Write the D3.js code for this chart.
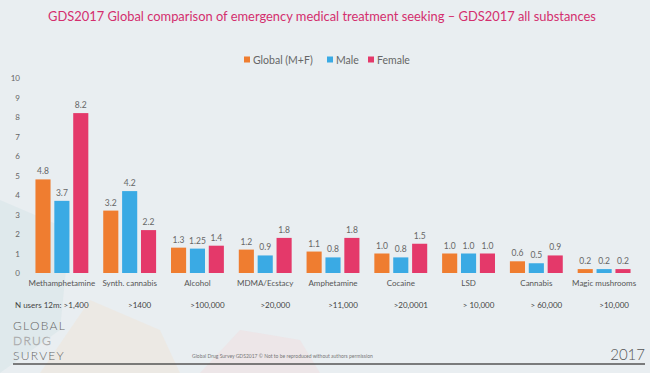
<!DOCTYPE html>
<html><head><meta charset="utf-8">
<script src="https://cdn.jsdelivr.net/npm/d3@7"></script>
<style>
html,body{margin:0;padding:0;background:#e9eef1;}
svg{display:block;font-family:Lato,"Open Sans",sans-serif;}
</style></head>
<body><svg id="c" width="650" height="373"></svg>
<script>
const categories = ["Methamphetamine","Synth. cannabis","Alcohol","MDMA/Ecstacy","Amphetamine","Cocaine","LSD","Cannabis","Magic mushrooms"];
const globalVals = [4.8,3.2,1.3,1.2,1.1,1.0,1.0,0.6,0.2];
const maleVals   = [3.7,4.2,1.25,0.9,0.8,0.8,1.0,0.5,0.2];
const femaleVals = [8.2,2.2,1.4,1.8,1.8,1.5,1.0,0.9,0.2];
const seriesNames = ["Global (M+F)","Male","Female"];
const nUsers = [">1,400",">1400",">100,000",">20,000",">11,000",">20,0001","> 10,000","> 60,000",">10,000"];
const yTicks = [0,1,2,3,4,5,6,7,8,9,10];

const colors = ["#ef7d30","#3aaae4","#e4396a"];
const series = [globalVals, maleVals, femaleVals];

const svg = d3.select("#c");
svg.append("rect").attr("width",650).attr("height",373).attr("fill","#e9eef1");

// faint decorative shapes bottom-left
svg.append("path").attr("d","M0,200 L70,230 L60,330 L0,373 Z").attr("fill","#d9e6ea").attr("opacity",0.6);
svg.append("path").attr("d","M40,373 L90,300 L160,330 L180,373 Z").attr("fill","#efe6dc").attr("opacity",0.6);
svg.append("path").attr("d","M200,373 L240,330 L300,340 L320,373 Z").attr("fill","#f1dde0").attr("opacity",0.5);

svg.append("text").attr("x",322).attr("y",21).attr("text-anchor","middle")
  .attr("font-size",12.9).attr("fill","#d42e6e").text("GDS2017 Global comparison of emergency medical treatment seeking \u2013 GDS2017 all substances");

// legend
const legX = [244,327,368];
seriesNames.forEach((n,i)=>{
  svg.append("rect").attr("x",legX[i]).attr("y",56.5).attr("width",6).attr("height",6).attr("fill",colors[i]);
  svg.append("text").attr("x",legX[i]+9).attr("y",63.5).attr("font-size",10.5).attr("fill","#666").text(n);
});

const x = d3.scaleBand().domain(categories).range([28,638]).paddingInner(0.22).paddingOuter(0.11);
const xs = d3.scaleBand().domain([0,1,2]).range([0,x.bandwidth()]).paddingInner(0.2);
const y = d3.scaleLinear().domain([0,10]).range([273,78]);

// y axis labels
const yAxis = d3.axisLeft(y).tickValues(yTicks).tickSize(0).tickPadding(0).tickFormat(d3.format("d"));
const ga = svg.append("g").attr("transform","translate(20,0)").call(yAxis);
ga.select(".domain").remove();
ga.selectAll("text").attr("font-size",8).attr("fill","#666").attr("font-family","Lato,'Open Sans',sans-serif");

const fmt = v => (Math.abs(Math.round(v*10)-v*10)<1e-9 ? v.toFixed(1) : String(v));

const groups = svg.append("g").selectAll("g").data(categories).join("g")
  .attr("transform",d=>`translate(${x(d)},0)`);
series.forEach((vals,si)=>{
  groups.append("rect")
    .attr("x",xs(si)).attr("width",xs.bandwidth())
    .attr("y",(d,i)=>y(vals[i])).attr("height",(d,i)=>y(0)-y(vals[i]))
    .attr("fill",colors[si]);
  groups.append("text")
    .attr("x",xs(si)+xs.bandwidth()/2).attr("y",(d,i)=>y(vals[i])-5)
    .attr("text-anchor","middle").attr("font-size",8.5).attr("fill","#666")
    .text((d,i)=>fmt(vals[i]));
});

// category labels
const xAxis = d3.axisBottom(x).tickSize(0).tickPadding(0);
const gx = svg.append("g").attr("transform","translate(0,280)").call(xAxis);
gx.select(".domain").remove();
gx.selectAll("text").attr("font-size",8).attr("fill","#555").attr("font-family","Lato,'Open Sans',sans-serif").attr("dy","0.71em");

// N users row
svg.append("text").attr("x",15).attr("y",308).attr("font-size",8).attr("fill","#444").text("N users 12m: "+nUsers[0]);
svg.append("g").selectAll("text").data(categories.slice(1)).join("text")
  .attr("x",(d)=>x(d)+x.bandwidth()/2+10).attr("y",308).attr("text-anchor","middle")
  .attr("font-size",8).attr("fill","#444").text((d,i)=>nUsers[i+1]);

// logo
svg.append("text").attr("x",13).attr("y",330).attr("font-size",12).attr("letter-spacing",1.3).attr("font-weight",300).attr("fill","#666").text("GLOBAL");
svg.append("text").attr("x",13).attr("y",345).attr("font-size",12).attr("letter-spacing",1.3).attr("font-weight",300).attr("fill","none").attr("stroke","#aaa").attr("stroke-width",0.5).text("DRUG");
svg.append("text").attr("x",13).attr("y",360).attr("font-size",12).attr("letter-spacing",1.3).attr("font-weight",300).attr("fill","#666").text("SURVEY");

svg.append("text").attr("x",192).attr("y",358).attr("font-size",5).attr("fill","#777").text("Global Drug Survey GDS2017 \u00a9 Not to be reproduced without authors permission");
svg.append("text").attr("x",645).attr("y",360).attr("text-anchor","end").attr("font-size",15).attr("font-weight",300).attr("fill","#555").text("2017");
svg.append("line").attr("x1",13).attr("x2",645).attr("y1",364).attr("y2",364).attr("stroke","#555").attr("stroke-width",1.5);
</script></body></html>
